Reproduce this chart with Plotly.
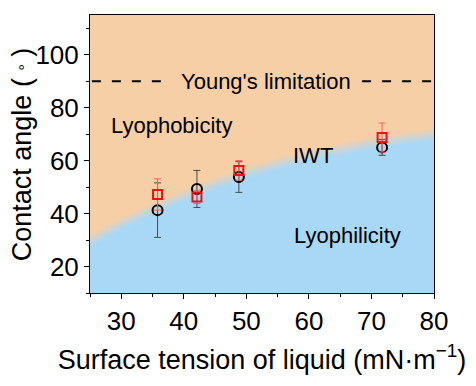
import numpy as np
import plotly.graph_objects as go

# Boundary between lyophobic and lyophilic regions (estimated)
boundary_x = [25, 30, 35, 40, 45, 50, 55, 60, 65, 70, 75, 80]
boundary_y = [30, 36.5, 42, 47, 51.5, 55.5, 59, 62, 64.5, 66.8, 68.5, 70]

# Measured data
tension = [35.8, 42.1, 48.8, 71.7]
circle_angle = [41.3, 49.3, 53.8, 65.0]
circle_err = [10.3, 7.0, 5.8, 3.0]
square_angle = [47.2, 46.3, 56.3, 68.7]
square_err = [5.9, 2.5, 3.7, 5.5]

young_limit = 90

BLUE = "#a9d8f7"
ORANGE = "#f6cfa7"
FONT = "Arial, Liberation Sans, sans-serif"

# background gradient built from the boundary
gx = np.arange(25, 80.01, 0.25)
gy = np.arange(10, 115.01, 0.25)
bx = np.interp(gx, boundary_x, boundary_y)
Z = np.clip((gy[:, None] - bx[None, :]) / 2.5, -1, 1)

fig = go.Figure()
fig.add_trace(go.Heatmap(x=gx, y=gy, z=Z, zmin=-1, zmax=1,
                         colorscale=[[0, BLUE], [1, ORANGE]],
                         showscale=False, hoverinfo="skip"))

# Young's limitation dashed line (split around the label)
dash_line = dict(color="black", width=2, dash="9px,11px")
fig.add_trace(go.Scatter(x=[25.3, 37.3], y=[young_limit, young_limit], mode="lines",
                         line=dash_line, showlegend=False, hoverinfo="skip"))
fig.add_trace(go.Scatter(x=[68.5, 80], y=[young_limit, young_limit], mode="lines",
                         line=dash_line, showlegend=False, hoverinfo="skip"))

fig.add_trace(go.Scatter(
    x=tension, y=circle_angle, mode="markers",
    marker=dict(symbol="circle-open", size=10, color="black", line=dict(width=2, color="black")),
    error_y=dict(type="data", array=circle_err, color="#4a4a4a", thickness=1, width=3.5),
    showlegend=False))
fig.add_trace(go.Scatter(
    x=tension, y=square_angle, mode="markers",
    marker=dict(symbol="square-open", size=9, color="#ee1111", line=dict(width=2, color="#ee1111")),
    error_y=dict(type="data", array=square_err, color="#f06060", thickness=1, width=3.5),
    showlegend=False))

ann_font = dict(family=FONT, size=22, color="black")
fig.add_annotation(x=53.1, y=young_limit, text="Young's limitation", showarrow=False, font=ann_font)
fig.add_annotation(x=38.1, y=73.2, text="Lyophobicity", showarrow=False, font=ann_font)
fig.add_annotation(x=60.6, y=61.9, text="IWT", showarrow=False, font=ann_font)
fig.add_annotation(x=66.2, y=31.7, text="Lyophilicity", showarrow=False, font=ann_font)

# y-axis title placed as a rotated annotation
fig.add_annotation(xref="paper", yref="paper", x=-0.197, y=0.5, xanchor="center", yanchor="middle",
                   text="Contact angle ( <span style='font-size:16px'>°</span> )", textangle=-90,
                   showarrow=False, font=dict(size=27, family=FONT, color="black"))

# page body adds an 8px offset, so margins compensate for it
fig.update_layout(
    width=476, height=386,
    margin=dict(l=82, r=50, t=7, b=101),
    paper_bgcolor="white", plot_bgcolor="white",
    font=dict(family=FONT, color="black"),
)
fig.update_xaxes(
    range=[25, 80], tickvals=[30, 40, 50, 60, 70, 80], automargin=False,
    ticks="outside", ticklen=5, tickcolor="black", tickwidth=1,
    minor=dict(tickvals=[25, 35, 45, 55, 65, 75], ticks="outside", ticklen=3, tickcolor="black"),
    showline=True, linecolor="black", linewidth=1, mirror=True,
    showgrid=False, zeroline=False,
    tickfont=dict(size=26, family=FONT),
    title=dict(text="Surface tension of liquid (mN·m<sup>−1</sup>)", font=dict(size=27, family=FONT), standoff=14),
)
fig.update_yaxes(
    range=[10, 115], tickvals=[20, 40, 60, 80, 100], automargin=False,
    ticks="outside", ticklen=5, tickcolor="black", tickwidth=1,
    minor=dict(tickvals=[10, 30, 50, 70, 90, 110], ticks="outside", ticklen=3, tickcolor="black"),
    showline=True, linecolor="black", linewidth=1, mirror=True,
    showgrid=False, zeroline=False,
    tickfont=dict(size=26, family=FONT),
)

fig.write_html("out.html")
